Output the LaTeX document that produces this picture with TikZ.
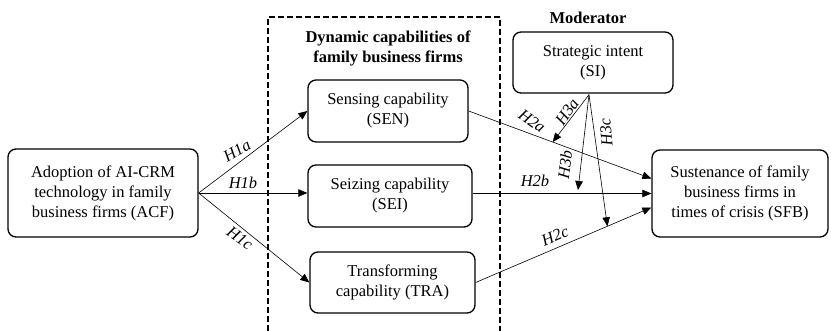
\documentclass[tikz,border=0pt]{standalone}
\usepackage{fontspec}
\setmainfont{Liberation Serif}
\usetikzlibrary{calc}
\usetikzlibrary{arrows.meta}
\def\boxw{160}
\def\boxh{62}

\begin{document}
\begin{tikzpicture}[x=1pt, y=-1pt]
	\tikzstyle{every node} = [font=\fontsize{16.5}{20}\selectfont]
	\tikzstyle{block}  = [draw, rounded corners=8pt, line width=1.3pt, align=center, inner sep=0pt]
	\tikzstyle{link}  = [line width=0.6pt, -{Triangle[length=9pt, width=7.5pt]}]
	\tikzstyle{hyp}  = [font=\fontsize{16.5}{20}\selectfont\itshape, inner sep=0pt]
	\useasboundingbox (0, 0) rectangle (831, 331);

	\node [block, minimum width=190, minimum height=88](ACF) at (103, 193) {Adoption of AI-CRM\\technology in family\\business firms (ACF)};
	\node [block, minimum width=\boxw, minimum height=\boxh](SEN) at (388, 111) {Sensing capability\\(SEN)};
	\node [block, minimum width=164, minimum height=\boxh](SEI) at (390, 196) {Seizing capability\\(SEI)};
	\node [block, minimum width=165, minimum height=61](TRA) at (392.5, 282.5) {Transforming\\capability (TRA)};
	\node [block, minimum width=176, minimum height=87](SFB) at (740, 193.5) {Sustenance of family\\business firms in\\times of crisis (SFB)};
	\node [block, minimum width=\boxw, minimum height=61](SI) at (593, 62.5) {Strategic intent\\(SI)};

	%%Headings
	\node [align=center, font=\fontsize{16.5}{20}\selectfont\bfseries](ldc) at (388, 48) {Dynamic capabilities of\\family business firms};
	\node [font=\fontsize{16.5}{20}\selectfont\bfseries](lmod) at (588, 18) {Moderator};
	\draw[line width=1.8pt, dash pattern=on 6pt off 3pt] (268, 331) -- (268, 17) -- (500, 17) -- (500, 331);

	%%Arrow ends
	\coordinate (a2) at ($(SFB.west) + (0, -15)$);
	\coordinate (b2) at ($(SFB.west)$);
	\coordinate (c2) at ($(SFB.west) + (0, 14)$);
	\coordinate (si) at ($(SI.south) + (-4, 1)$);

	\draw[link] (ACF.east)--(SEN.west);
	\draw[link] (ACF.east)--(ACF.east -| SEI.west);
	\draw[link] (ACF.east)--(TRA.west);
	\draw[link] (SEN.east)--(a2);
	\draw[link] (SEI.east |- b2)--(b2);
	\draw[link] (TRA.east)--(c2);

	\draw[link] (si)--($(SEN.east)!0.46!(a2)$);
	\draw[link] (si)--(578, 190);
	\draw[link] (si)--($(TRA.east)!0.75!(c2)$);

	%%Hypotheses labels
	\node [hyp, rotate=30](l1a) at (237, 151) {H1a};
	\node [hyp](l1b) at (243, 183) {H1b};
	\node [hyp, rotate=-35](l1c) at (240, 238) {H1c};
	\node [hyp, rotate=-35](l2a) at (532, 121) {H2a};
	\node [hyp](l2b) at (535, 181) {H2b};
	\node [hyp, rotate=23](l2c) at (555, 236) {H2c};
	\node [hyp, rotate=55](l3a) at (567, 112) {H3a};
	\node [hyp, rotate=83](l3b) at (565, 165) {H3b};
	\node [hyp, rotate=95](l3c) at (606, 132) {H3c};
\end{tikzpicture}
\end{document}
